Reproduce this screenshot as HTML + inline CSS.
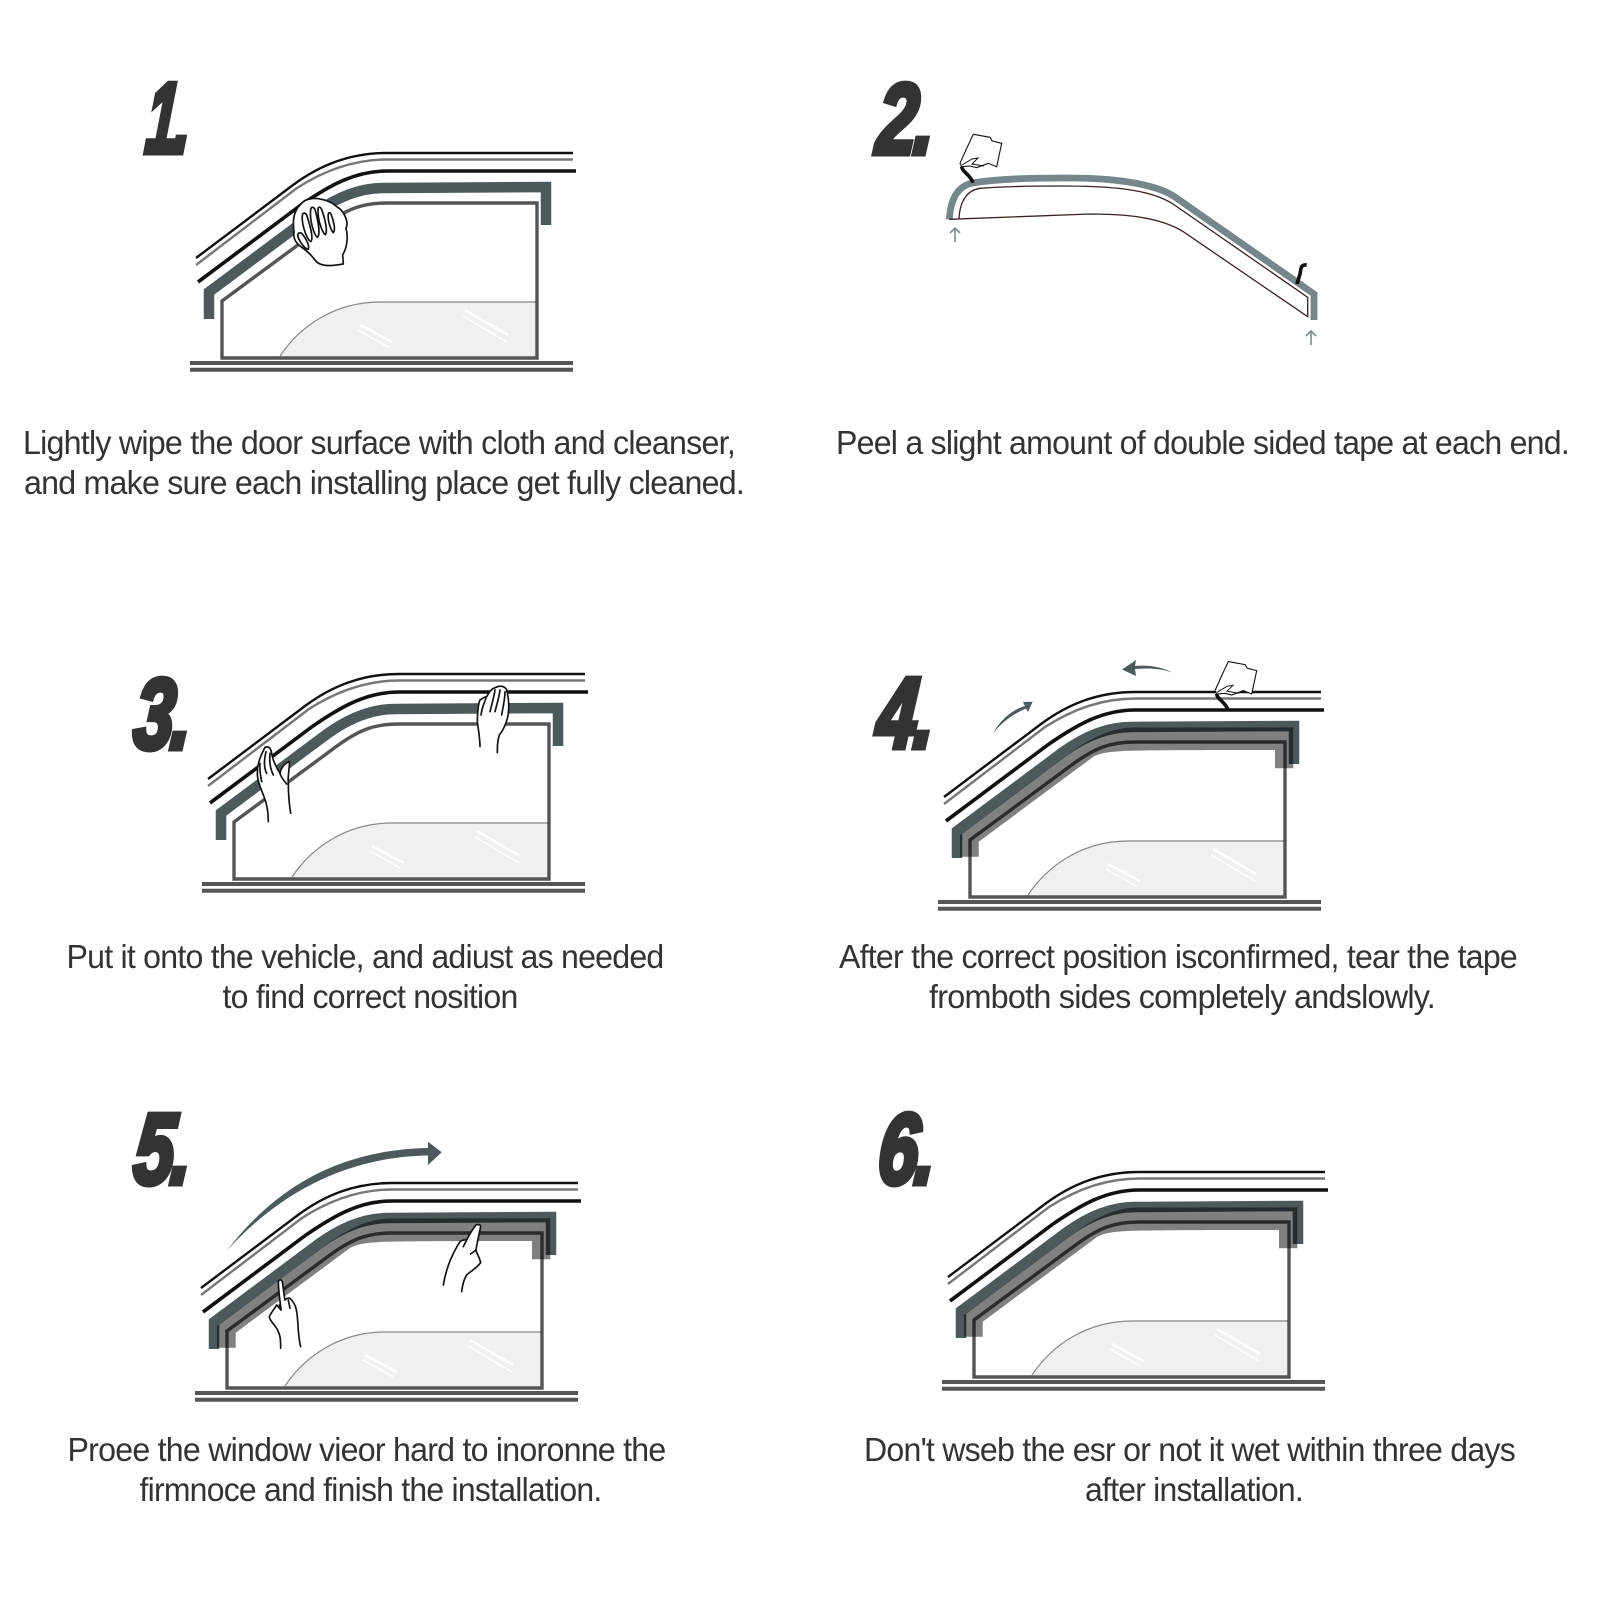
<!DOCTYPE html>
<html><head><meta charset="utf-8"><style>
html,body{margin:0;padding:0;background:#fff}
svg{display:block}
.t{font-family:"Liberation Sans",Arial,sans-serif;font-size:33.5px;fill:#333;letter-spacing:-.8px}
.n{font-family:"Liberation Sans",Arial,sans-serif;font-size:100px;font-weight:bold;font-style:italic;fill:#333;stroke:#333;stroke-width:6px;stroke-linejoin:miter;letter-spacing:-4px}
.h{fill:#fff;stroke:#111;stroke-width:5;stroke-linejoin:round;stroke-linecap:round}
.l{fill:none;stroke:#111;stroke-width:5;stroke-linecap:round;stroke-linejoin:round}
.m{mix-blend-mode:multiply}
</style></head><body>
<svg width="1600" height="1600" viewBox="0 0 1600 1600" xmlns="http://www.w3.org/2000/svg">
<defs>
<g id="base">
  <path d="M280,356 C300,326 335,302 380,302 L536,302 L536,356 Z" fill="#f0f0f0"/>
  <path d="M280,356 C300,326 335,302 380,302 L536,302" fill="none" stroke="#888" stroke-width="1.2"/>
  <g stroke="#fff" fill="none">
    <path d="M360,325 L392,342" stroke-width="2.5"/><path d="M358,330 L388,347" stroke-width="1.5"/>
    <path d="M465,310 L508,335" stroke-width="2.5"/><path d="M463,316 L507,342" stroke-width="1.5"/>
  </g>
  <path d="M190,363 H573 M190,369.7 H573" stroke="#555" stroke-width="4" fill="none"/>
  <path d="M196,258 L293,185 C320,165 350,153 387,153 L573,153" fill="none" stroke="#111" stroke-width="2.4"/>
  <path d="M196,265 L297,188 C325,170 355,159.5 387,159.5 L573,159.5" fill="none" stroke="#777" stroke-width="2.4"/>
  <path d="M198,282 L300,205.7 C330,185 355,171 387,171 L576,171" fill="none" stroke="#111" stroke-width="3.6"/>
</g>
<path id="frame" class="m" d="M222,358 L222,301 L325,225 C347,209 362,203 387,203 L537,203 L537,358 Z" fill="none" stroke="#555" stroke-width="3.4"/>
<path id="visA" class="m" d="M209,319 L209,292 L315,213 C340,195 362,188 383,188 L546,187 L546,225" fill="none" stroke="#4d5a5c" stroke-width="10.5" stroke-linejoin="miter"/>
<path id="visB" class="m" d="M212,317.7 L212,296 L318,217 C345,197 365,188.5 387,188.5 L545.3,188.3 L545.3,229.3 L527,229.3 L527,211 C470,211 400,211 375,212 C360,213 352,214 345,218 L230.7,302.7 L230.7,317.7 Z" fill="#808080"/>
<g id="cloth">
  <path d="M973.3,134.3 L990,137.3 L992.3,141 L1001.7,143.3 L996.7,166.7 L988.3,163.3 L976.7,167.7 L970,166 L961.7,166.7 L960,163.3 L966.7,148.3 Z" fill="#fff" stroke="#111" stroke-width="1.1"/>
  <path d="M962,165 L972,159 L978,158 L972,164 L984,166" fill="none" stroke="#111" stroke-width="1"/>
  <path d="M961.7,166.7 C962,172 970,174 973,182.7" fill="none" stroke="#111" stroke-width="3.6"/>
</g>
</defs>
<rect width="1600" height="1600" fill="#fff"/>

<!-- Panel 1 -->
<use href="#base"/><use href="#visA"/><use href="#frame"/>
<g transform="translate(280,190) scale(.3333)">
  <path class="h" d="M60,45 C45,60 36,85 42,125 C38,145 50,160 60,168 C75,178 90,190 105,210 C115,225 140,232 190,222 L188,195 C202,170 205,140 198,115 C208,95 190,60 170,50 C150,30 110,22 90,27 C78,28 68,35 60,45 Z"/>
  <path class="l" d="M68,72 C62,95 78,145 92,155 C100,150 95,120 80,75 C76,68 70,68 68,72 Z M92,58 C88,90 102,135 112,142 C122,135 115,95 105,58 C100,50 94,50 92,58 Z M114,56 C112,90 128,130 136,134 C144,125 135,85 124,56 C120,50 116,50 114,56 Z M145,72 C142,90 152,120 160,128 C168,120 160,90 153,72 C150,67 146,67 145,72 Z M55,130 C48,140 70,175 85,178 C90,165 72,135 62,128 Z" stroke-width="3"/>
</g>

<!-- Panel 2 -->
<path d="M949.3,219.3 C951,195 960,186 972,183 C1005,178 1040,178 1070,178 C1110,178 1155,183 1175,197 L1314,294 L1314,320" fill="none" stroke="#75878a" stroke-width="6.8" stroke-linejoin="miter"/>
<path d="M959,218.3 C960,200 968,190 980,188.3 C1010,186 1040,186 1060,186 C1105,186 1148,188 1173,204 L1307.7,297.3 L1307.7,316.7 L1183.3,231.7 C1160,217 1125,214 1090,214 L949.3,219.3" fill="none" stroke="#3a2020" stroke-width="1.3"/>
<path d="M955,242 V228 M950,233 L955,228 L960,233 M1311,345 V331 M1306,336 L1311,331 L1316,336" fill="none" stroke="#7a8a8c" stroke-width="1.6"/>
<use href="#cloth"/>
<path d="M1306.7,265 C1300,264 1301,270 1300,274 C1299,278 1298,280 1297,284" fill="none" stroke="#111" stroke-width="3.6"/>

<!-- Panel 3 -->
<g transform="translate(12,521)"><use href="#base"/><use href="#visA"/><use href="#frame"/></g>
<g transform="translate(250,740) scale(.3333)">
  <path class="h" d="M55,245 C55,220 50,190 42,170 C30,140 22,120 22,100 C22,80 25,60 45,22 C55,18 62,22 65,40 C68,60 80,85 90,100 C92,85 105,68 118,65 C120,80 112,110 115,130 C115,165 118,195 122,220"/>
  <path class="l" d="M30,70 C28,90 32,110 35,125 M48,35 C42,60 42,85 50,100 M60,40 C58,60 60,85 70,105 M90,100 C92,110 100,120 110,132"/>
</g>
<g transform="translate(470,680) scale(.3333)">
  <path class="h" d="M30,200 C30,175 25,150 22,125 C22,100 25,70 30,60 C38,55 45,50 50,50 C55,40 65,25 78,22 C90,16 105,18 110,30 C115,50 118,75 115,100 C112,125 100,150 88,165 C82,185 82,200 82,218"/>
  <path class="l" d="M48,55 C42,70 35,85 33,105 M75,30 C72,50 65,75 60,95 M90,30 C88,50 80,75 75,95 M105,35 C105,60 98,85 95,105"/>
</g>

<!-- Panel 4 -->
<g transform="translate(748,539)"><use href="#base"/><use href="#visB"/><use href="#visA"/><use href="#frame"/></g>
<use href="#cloth" transform="translate(255,527.3)"/>
<path d="M993.3,733.3 C1000,720 1012,710 1025,706 L1023,702 L1032.7,701.7 L1028,712 L1026,708.5 C1013,714 1002,722 993.3,733.3 Z" fill="#4d5a5c"/>
<path d="M1172,672.5 C1160,666 1145,665 1135,666 L1136,660 L1122,669.5 L1136,676 L1135,669 C1147,668 1160,668 1172,672.5 Z" fill="#4d5a5c"/>

<!-- Panel 5 -->
<g transform="translate(5,1030)"><use href="#base"/><use href="#visB"/><use href="#visA"/><use href="#frame"/></g>
<path d="M226.7,1250.7 C270,1195 330,1150 428,1148 L428,1141.7 L441.7,1152.3 L428,1165 L428,1155.5 C340,1157 275,1198 226.7,1250.7 Z" fill="#4d5a5c"/>
<g transform="translate(120,1100) scale(.3333)">
  <path class="h" d="M482,745 C482,720 482,705 470,685 C460,670 448,660 448,650 C455,635 465,625 470,615 L483,630 C480,600 475,570 475,545 C478,538 485,538 487,545 C490,565 492,585 495,600 C500,595 505,593 510,595 C525,610 530,625 532,650 C535,680 535,715 542,740"/>
  <path class="l" d="M483,630 L478,615 M505,600 L510,625"/>
  <path class="h" d="M970,555 C975,525 985,495 992,478 C1000,460 1010,440 1020,425 C1028,418 1035,420 1040,420 C1050,400 1060,385 1068,375 C1075,372 1083,375 1082,380 C1078,400 1072,425 1068,450 C1072,465 1080,475 1082,488 C1070,505 1050,515 1040,525 C1030,540 1027,560 1025,575"/>
  <path class="l" d="M1040,420 L1030,440 M1068,450 L1052,462"/>
</g>

<!-- Panel 6 -->
<g transform="translate(752,1019)"><use href="#base"/><use href="#visB"/><use href="#visA"/><use href="#frame"/></g>

<!-- Numbers -->
<text class="n" transform="translate(144,152.5) skewX(-5) scale(.56,1)">1.</text>
<text class="n" transform="translate(875,153.5) skewX(-5) scale(.72,1)">2.</text>
<text class="n" transform="translate(132,748.5) skewX(-5) scale(.72,1)">3.</text>
<text class="n" transform="translate(875,747.5) skewX(-5) scale(.72,1)">4.</text>
<text class="n" transform="translate(132,1183.5) skewX(-5) scale(.72,1)">5.</text>
<text class="n" transform="translate(876,1183.5) skewX(-5) scale(.72,1)">6.</text>

<!-- Captions -->
<text class="t" x="23" y="454" textLength="712" lengthAdjust="spacingAndGlyphs">Lightly wipe the door surface with cloth and cleanser,</text>
<text class="t" x="24" y="494" textLength="720" lengthAdjust="spacingAndGlyphs">and make sure each installing place get fully cleaned.</text>
<text class="t" x="836" y="454" textLength="733" lengthAdjust="spacingAndGlyphs">Peel a slight amount of double sided tape at each end.</text>
<text class="t" x="66.5" y="968" textLength="597" lengthAdjust="spacingAndGlyphs">Put it onto the vehicle, and adiust as needed</text>
<text class="t" x="222.5" y="1008" textLength="295" lengthAdjust="spacingAndGlyphs">to find correct nosition</text>
<text class="t" x="839" y="968" textLength="678" lengthAdjust="spacingAndGlyphs">After the correct position isconfirmed, tear the tape</text>
<text class="t" x="929" y="1008" textLength="506" lengthAdjust="spacingAndGlyphs">fromboth sides completely andslowly.</text>
<text class="t" x="67.5" y="1461" textLength="598" lengthAdjust="spacingAndGlyphs">Proee the window vieor hard to inoronne the</text>
<text class="t" x="139.5" y="1501" textLength="462" lengthAdjust="spacingAndGlyphs">firmnoce and finish the installation.</text>
<text class="t" x="864" y="1461" textLength="651" lengthAdjust="spacingAndGlyphs">Don't wseb the esr or not it wet within three days</text>
<text class="t" x="1085" y="1501" textLength="218" lengthAdjust="spacingAndGlyphs">after installation.</text>
</svg>
</body></html>
